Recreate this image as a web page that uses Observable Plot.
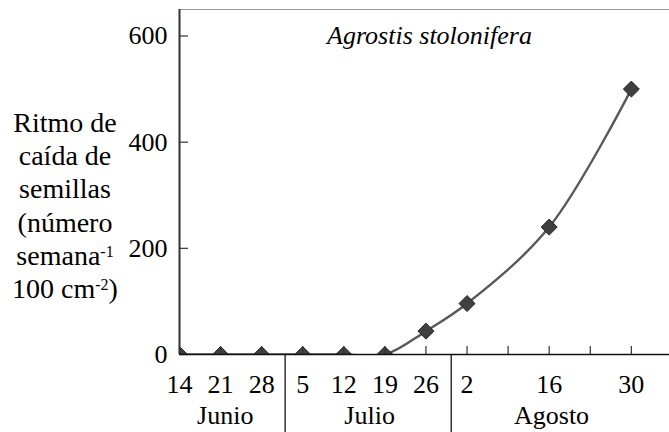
<!DOCTYPE html>
<html><head><meta charset="utf-8">
<script src="https://cdn.jsdelivr.net/npm/d3@7"></script>
<script src="https://cdn.jsdelivr.net/npm/@observablehq/plot@0.6"></script>
<style>
body{margin:0;background:#fff}
svg{display:block}
#chart svg, #chart svg text, #chart svg tspan{font-family:"Liberation Serif","Times New Roman",serif !important;}
</style>
</head><body><div id="chart"></div>
<script>
// ---- data ----
const sampleDays = [0, 7, 14, 21, 28, 35, 42, 49, 63, 77]; // days since 14 June
const seedRate = [0, 0, 0, 0, 0, 0, 44, 96, 240, 500];
const weekTickDays = [0, 7, 14, 21, 28, 35, 42, 49, 56, 63, 70, 77];
const dayLabelDays = [0, 7, 14, 21, 28, 35, 42, 49, 63, 77];
const dayLabels = ["14", "21", "28", "5", "12", "19", "26", "2", "16", "30"];
const monthNames = ["Junio", "Julio", "Agosto"];
const monthCenterDays = [7.8, 32.4, 63.4];
const monthBoundDays = [18, 46.3];
const yTicks = [0, 200, 400, 600];
const speciesTitle = "Agrostis stolonifera";
const yTitleLines = [
  [["Ritmo de", false]],
  [["caída de", false]],
  [["semillas", false]],
  [["(número", false]],
  [["semana", false], ["-1", true]],
  [["100 cm", false], ["-2", true], [")", false]]
];

// ---- layout ----
const W = 669, H = 432, mL = 179, mR = 0, mT = 9, mB = 78;
const plotW = W - mL - mR, plotH = H - mT - mB;
const FONT = "'Liberation Serif', 'Times New Roman', serif";

const points = sampleDays.map((d, i) => ({day: d, rate: seedRate[i]}));
const dayLab = dayLabelDays.map((d, i) => ({day: d, label: dayLabels[i]}));
const months = monthNames.map((m, i) => ({day: monthCenterDays[i], name: m}));

const svg = Plot.plot({
  width: W, height: H,
  marginLeft: mL, marginRight: mR, marginTop: mT, marginBottom: mB,
  style: {fontFamily: FONT, background: "#fff"},
  x: {domain: [0, 83.5], axis: null},
  y: {domain: [0, 650], axis: null},
  marks: [
    Plot.line(points, {x: "day", y: "rate", stroke: "#595959", strokeWidth: 2.4, curve: "catmull-rom", clip: true}),
    Plot.dot(points, {x: "day", y: "rate", symbol: "diamond2", r: 7.2, fill: "#404040", stroke: "#222", strokeWidth: 1, clip: true}),
    Plot.ruleY([650], {stroke: "#999", strokeWidth: 1}),
    Plot.tickX(weekTickDays, {x: d => d, insetTop: plotH - 8, stroke: "#333", strokeWidth: 1.2}),
    Plot.tickY(yTicks, {y: d => d, insetRight: plotW - 9, stroke: "#333", strokeWidth: 1.2}),
    Plot.ruleX([0], {stroke: "#333", strokeWidth: 2}),
    Plot.ruleY([0], {stroke: "#111", strokeWidth: 1.6}),
    Plot.ruleX(monthBoundDays, {x: d => d, insetTop: plotH, insetBottom: -mB, stroke: "#000", strokeWidth: 1.2}),
    Plot.text(yTicks, {y: d => d, text: d => String(d), frameAnchor: "left", dx: -12, textAnchor: "end", lineAnchor: "middle", fontSize: 26, fontFamily: FONT, fill: "#000"}),
    Plot.text(dayLab, {x: "day", text: "label", frameAnchor: "bottom", lineAnchor: "bottom", dy: 38, fontSize: 26, fontFamily: FONT, fill: "#000"}),
    Plot.text(months, {x: "day", text: "name", frameAnchor: "bottom", lineAnchor: "bottom", dy: 69, fontSize: 26, fontFamily: FONT, fill: "#000"}),
    Plot.text([speciesTitle], {text: d => d, frameAnchor: "top", lineAnchor: "bottom", dx: 5, dy: 34, fontSize: 26, fontFamily: FONT, fontStyle: "italic", fill: "#000"})
  ]
});

// multi-line y title with superscripts
const g = d3.select(svg).append("g")
  .style("font-family", FONT).attr("font-size", 28).attr("text-anchor", "middle").attr("fill", "#000");
yTitleLines.forEach((parts, i) => {
  const t = g.append("text").attr("x", 65).attr("y", 132 + i * 33.2);
  parts.forEach(([s, sup]) => {
    const ts = t.append("tspan").text(s);
    if (sup) ts.attr("font-size", 16).attr("baseline-shift", "super");
    else ts.attr("baseline-shift", "0");
  });
});

document.getElementById("chart").appendChild(svg);
</script>
</body></html>
